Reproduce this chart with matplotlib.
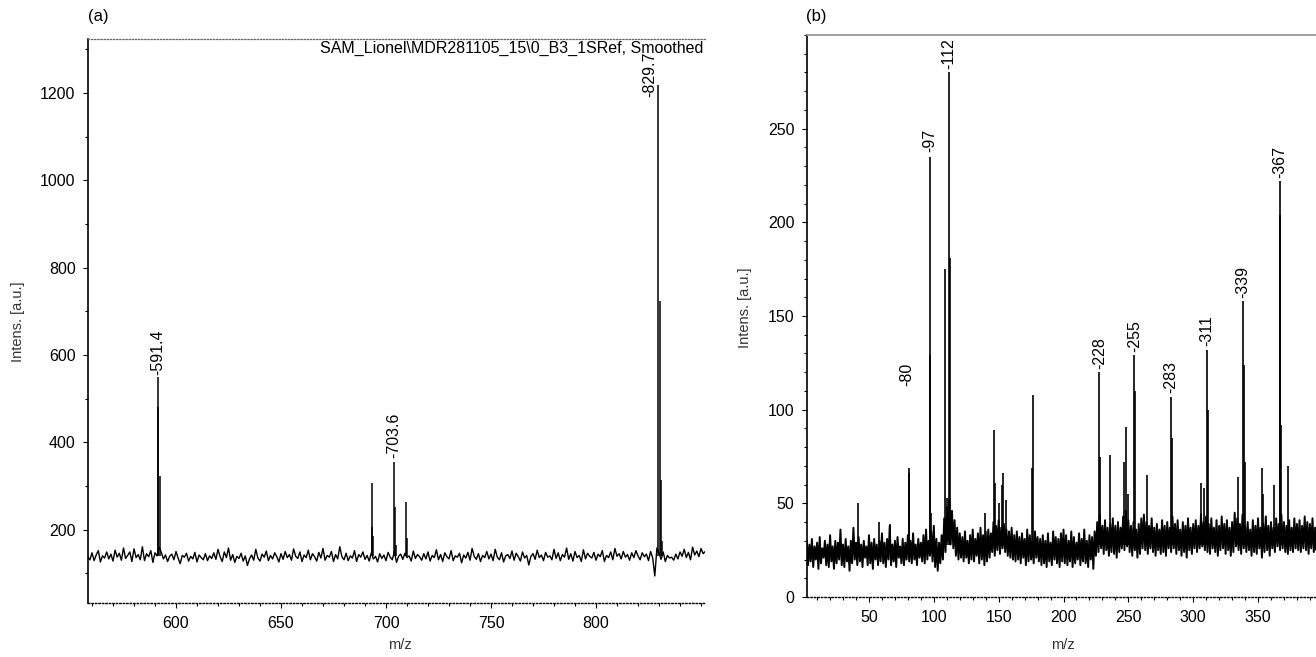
import matplotlib
matplotlib.use("Agg")
import matplotlib.pyplot as plt
from matplotlib.ticker import MultipleLocator, FixedLocator
import numpy as np

plt.rcParams['font.family'] = ['Liberation Sans', 'DejaVu Sans']

# ---- panel (a): baseline trace, one value per m/z unit from 558 ----
mz_a_start = 558
trace_a = [
    138, 131, 147, 129, 142, 152, 126, 140, 135, 149, 133, 144, 128, 153, 137, 146, 130, 158, 134, 141,
    149, 127, 156, 136, 143, 131, 161, 129, 145, 138, 152, 125, 147, 140, 160, 148, 133, 142, 127, 139,
    144, 131, 150, 135, 122, 141, 137, 146, 128, 139, 133, 148, 126, 142, 136, 131, 145, 129, 140, 134,
    147, 132, 155, 138, 127, 149, 136, 158, 130, 143, 125, 139, 134, 146, 128, 140, 118, 133, 142, 130,
    155, 135, 128, 144, 137, 151, 129, 141, 133, 147, 138, 126, 145, 132, 150, 136, 143, 130, 156, 139,
    134, 149, 127, 142, 136, 153, 131, 145, 138, 128, 148, 135, 157, 130, 141, 137, 150, 127, 143, 133,
    161, 138, 131, 146, 129, 140, 135, 152, 127, 143, 137, 149, 132, 141, 128, 147, 133, 139, 126, 145,
    134, 142, 129, 148, 137, 131, 150, 125, 139, 144, 132, 146, 136, 140, 128, 151, 134, 143, 138, 130,
    145, 133, 149, 128, 141, 136, 154, 131, 143, 127, 147, 138, 133, 152, 129, 140, 137, 146, 124, 142,
    135, 148, 130, 157, 139, 132, 145, 127, 141, 136, 150, 133, 144, 129, 155, 137, 131, 147, 126, 140,
    143, 134, 151, 130, 146, 138, 128, 149, 135, 141, 119, 139, 145, 132, 153, 136, 142, 129, 148, 137,
    140, 131, 155, 134, 147, 129, 143, 137, 158, 132, 145, 128, 150, 136, 141, 127, 154, 133, 146, 139,
    135, 148, 130, 144, 138, 152, 127, 141, 136, 149, 131, 157, 139, 145, 133, 150, 137, 143, 130, 147,
    136, 152, 140, 131, 147, 138, 144, 129, 150, 135, 94, 158, 146, 132, 149, 127, 141, 135, 137, 130,
    144, 133, 149, 139, 155, 136, 148, 131, 160, 142, 151, 138, 157, 145, 150,
]
peaks_a_mz = [591.2, 591.4, 592.3, 693.1, 693.5, 694.0, 703.6, 704.3, 704.9, 709.5, 710.1,
              829.7, 830.4, 831.1, 831.6]
peaks_a_int = [480, 549, 322, 205, 306, 185, 356, 253, 165, 264, 182,
               1218, 724, 313, 175]
labels_a = ['591.4', '703.6', '829.7']
labels_a_mz = [591.4, 703.6, 825.4]
labels_a_int = [552, 361, 1188]

# ---- panel (b): baseline trace, one value per m/z unit from 2 ----
mz_b_start = 2
trace_b = [
    30, 17, 28, 19, 31, 16, 27, 20, 29, 15, 32, 18, 26, 21, 30, 17, 28, 16, 33, 19,
    27, 15, 30, 18, 29, 20, 36, 17, 28, 16, 31, 19, 27, 14, 30, 18, 37, 20, 29, 17,
    32, 19, 28, 16, 30, 21, 27, 17, 33, 18, 29, 15, 31, 20, 28, 17, 30, 19, 34, 18,
    29, 16, 31, 20, 38, 17, 28, 19, 30, 16, 32, 21, 27, 18, 31, 17, 29, 20, 33, 19,
    30, 18, 34, 20, 28, 17, 31, 21, 29, 19, 33, 18, 36, 20, 30, 22, 35, 19, 38, 16,
    31, 14, 29, 18, 33, 20, 42, 24, 48, 30, 52, 28, 46, 26, 41, 22, 37, 20, 34, 21,
    32, 19, 35, 21, 30, 18, 33, 20, 36, 19, 31, 22, 34, 18, 37, 20, 33, 17, 35, 19,
    36, 21, 34, 24, 40, 22, 38, 25, 41, 23, 37, 26, 39, 24, 36, 22, 35, 21, 37, 20,
    33, 19, 35, 20, 32, 18, 34, 21, 31, 17, 36, 19, 33, 20, 30, 18, 35, 21, 32, 19,
    31, 17, 33, 18, 30, 16, 34, 19, 29, 17, 35, 20, 32, 18, 31, 16, 34, 19, 36, 18,
    33, 17, 30, 19, 35, 16, 32, 18, 29, 20, 34, 17, 31, 19, 36, 18, 30, 16, 33, 20,
    32, 15, 35, 22, 40, 24, 44, 26, 38, 23, 41, 25, 37, 22, 39, 24, 42, 23, 38, 21,
    40, 24, 37, 26, 43, 25, 46, 27, 41, 24, 38, 22, 40, 25, 36, 21, 39, 23, 42, 26,
    44, 25, 40, 23, 38, 26, 42, 24, 37, 22, 39, 25, 36, 23, 41, 24, 38, 22, 40, 26,
    37, 24, 43, 26, 39, 23, 41, 25, 36, 22, 40, 24, 38, 21, 42, 25, 37, 23, 39, 26,
    41, 24, 38, 26, 44, 27, 40, 25, 43, 24, 39, 23, 42, 26, 37, 24, 41, 22, 38, 25,
    43, 26, 39, 23, 41, 25, 37, 22, 40, 24, 45, 27, 42, 25, 39, 23, 44, 26, 38, 24,
    40, 25, 36, 22, 41, 24, 38, 23, 42, 26, 37, 21, 39, 24, 43, 25, 38, 22, 40, 26,
    37, 24, 42, 27, 39, 25, 44, 26, 40, 24, 38, 23, 41, 25, 37, 24, 42, 26, 39, 25,
    41, 24, 38, 26, 43, 25, 40, 23, 39, 26, 42, 24, 37, 25, 41, 26, 38, 24, 40, 25,
    37, 25, 41, 24,
]
peaks_b_mz = [41.5, 58, 66, 80.5, 81.2, 96.8, 97.2, 98, 108.5, 110, 111.5, 112.3,
              139.5, 146.3, 147, 150, 152.5, 153.3, 156, 176, 176.6,
              227.6, 228.2, 236, 246.5, 248.5, 250, 254.7, 255.3, 264.5,
              283, 283.5, 306.3, 308.5, 310.8, 311.4, 334.6, 338.5, 339, 340,
              353, 353.6, 362, 366.8, 367.2, 367.8, 373]
peaks_b_int = [50, 40, 39, 66, 69, 129, 235, 45, 175, 53, 280, 181,
               45, 89, 61, 50, 60, 66, 52, 69, 108,
               120, 75, 76, 72, 91, 55, 129, 110, 65,
               107, 85, 61, 58, 132, 100, 64, 158, 124, 72,
               69, 55, 60, 222, 204, 92, 70]
labels_b = ['80', '97', '112', '228', '255', '283', '311', '339', '367']
labels_b_mz = [79, 96.5, 111.5, 227.6, 254.7, 283, 310.8, 338.5, 366.8]
labels_b_int = [112, 237, 281, 121, 130, 108, 133, 159, 223]

W, H = 1316, 657
fig = plt.figure(figsize=(W / 100, H / 100), dpi=100)


def style_axes(ax, top_dotted):
    ax.spines['right'].set_visible(False)
    ax.spines['left'].set_linewidth(1.2)
    ax.spines['bottom'].set_linestyle((0, (1, 1.5)))
    ax.spines['bottom'].set_linewidth(1.0)
    if top_dotted:
        ax.spines['top'].set_linestyle((0, (1, 1.5)))
        ax.spines['top'].set_color('#666666')
        ax.spines['top'].set_linewidth(0.9)
    else:
        ax.spines['top'].set_color('#999999')
        ax.spines['top'].set_linewidth(1.3)
    ax.tick_params(which='both', direction='out', top=False, right=False,
                   labelsize=11.5, width=0.8, pad=5.5)
    ax.tick_params(which='major', length=3.5)
    ax.tick_params(which='minor', length=2.5)


# panel (a)
ax1 = fig.add_axes([88 / W, 1 - 603 / H, 617 / W, 564 / H])
mz_a = np.arange(mz_a_start, mz_a_start + len(trace_a))
ax1.plot(mz_a, trace_a, color='black', lw=1.0)
ax1.vlines(peaks_a_mz, 140, peaks_a_int, color='black', lw=1.1)
for lab, x, y in zip(labels_a, labels_a_mz, labels_a_int):
    ax1.annotate('-' + lab, (x, y), xytext=(0, 1), textcoords='offset points',
                 rotation=90, ha='center', va='bottom', fontsize=11.5)
ax1.set_xlim(558.1, 851.9)
ax1.set_ylim(32, 1324)
ax1.xaxis.set_major_locator(FixedLocator([600, 650, 700, 750, 800]))
ax1.xaxis.set_minor_locator(MultipleLocator(10))
ax1.yaxis.set_major_locator(FixedLocator([200, 400, 600, 800, 1000, 1200]))
ax1.yaxis.set_minor_locator(MultipleLocator(100))
style_axes(ax1, True)
ax1.text(0.997, 0.997, r'SAM_Lionel\MDR281105_15\0_B3_1SRef, Smoothed',
         transform=ax1.transAxes, ha='right', va='top', fontsize=11.5)

# panel (b)
ax2 = fig.add_axes([807 / W, 1 - 597 / H, 523 / W, 562 / H])
mz_b = np.arange(mz_b_start, mz_b_start + len(trace_b))
ax2.plot(mz_b, trace_b, color='black', lw=1.4)
ax2.vlines(peaks_b_mz, 28, peaks_b_int, color='black', lw=1.2)
for lab, x, y in zip(labels_b, labels_b_mz, labels_b_int):
    ax2.annotate('-' + lab, (x, y), xytext=(0, 1), textcoords='offset points',
                 rotation=90, ha='center', va='bottom', fontsize=11.5)
ax2.set_xlim(2.2, 405.5)
ax2.set_ylim(0, 300)
ax2.xaxis.set_major_locator(FixedLocator([50, 100, 150, 200, 250, 300, 350]))
ax2.xaxis.set_minor_locator(MultipleLocator(10))
ax2.yaxis.set_major_locator(FixedLocator([0, 50, 100, 150, 200, 250]))
ax2.yaxis.set_minor_locator(MultipleLocator(10))
style_axes(ax2, False)

# panel letters and axis titles
fig.text(88 / W, 1 - 17 / H, '(a)', ha='left', va='center', fontsize=12)
fig.text(806 / W, 1 - 17 / H, '(b)', ha='left', va='center', fontsize=12)
fig.text(18 / W, 1 - 322 / H, 'Intens. [a.u.]', rotation=90, ha='center', va='center',
         fontsize=10.5, color='#333333')
fig.text(745 / W, 1 - 308 / H, 'Intens. [a.u.]', rotation=90, ha='center', va='center',
         fontsize=10.5, color='#333333')
fig.text(400 / W, 1 - 645 / H, 'm/z', ha='center', va='center', fontsize=10.5, color='#333333')
fig.text(1063 / W, 1 - 645 / H, 'm/z', ha='center', va='center', fontsize=10.5, color='#333333')

fig.savefig('out.png', dpi=100)
